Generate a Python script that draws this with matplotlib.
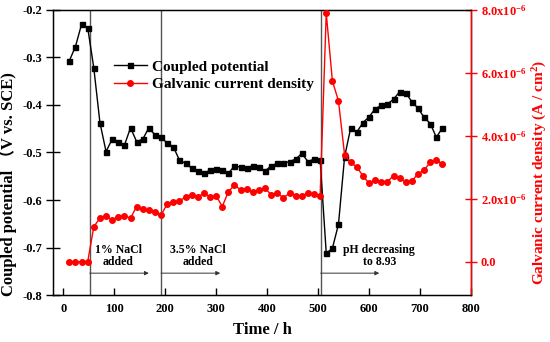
import matplotlib
matplotlib.use("Agg")
import matplotlib.pyplot as plt

plt.rcParams["font.family"] = ["Liberation Serif", "Noto Sans CJK SC"]
plt.rcParams["font.weight"] = "bold"
plt.rcParams["mathtext.fontset"] = "custom"
plt.rcParams["mathtext.rm"] = "Liberation Serif:bold"
plt.rcParams["mathtext.it"] = "Liberation Serif:italic:bold"
plt.rcParams["mathtext.bf"] = "Liberation Serif:bold"

# time (h)
time_h = [12, 24, 36, 48, 60, 72, 84, 96, 108, 120, 132, 144, 156, 168, 180,
          192, 204, 216, 228, 240, 252, 264, 276, 288, 300, 312, 324, 336,
          348, 360, 372, 384, 396, 408, 420, 432, 444, 456, 468, 480, 492,
          504, 516, 528, 540, 552, 564, 576, 588, 600, 612, 624, 636, 648,
          660, 672, 684, 696, 708, 720, 732, 744]

# coupled potential (V vs. SCE)
potential = [-0.307, -0.277, -0.230, -0.237, -0.322, -0.437, -0.498, -0.472,
             -0.477, -0.485, -0.448, -0.477, -0.472, -0.448, -0.463, -0.467,
             -0.481, -0.488, -0.516, -0.523, -0.533, -0.539, -0.544, -0.537,
             -0.535, -0.537, -0.544, -0.528, -0.531, -0.532, -0.528, -0.530,
             -0.539, -0.528, -0.523, -0.523, -0.519, -0.514, -0.502, -0.519,
             -0.514, -0.516, -0.712, -0.702, -0.651, -0.509, -0.448, -0.457,
             -0.437, -0.425, -0.408, -0.401, -0.398, -0.388, -0.372, -0.375,
             -0.393, -0.407, -0.426, -0.439, -0.468, -0.448]

# galvanic current density (1e-6 A/cm2)
current_e6 = [0.0, 0.0, 0.0, 0.0, 1.12, 1.39, 1.47, 1.33, 1.44, 1.46, 1.39,
              1.76, 1.67, 1.65, 1.58, 1.49, 1.84, 1.90, 1.95, 2.05, 2.14,
              2.06, 2.18, 2.07, 2.10, 1.76, 2.23, 2.44, 2.29, 2.32, 2.23,
              2.29, 2.34, 2.13, 2.18, 2.04, 2.18, 2.10, 2.10, 2.18, 2.16,
              2.10, 7.90, 5.75, 5.11, 3.40, 3.16, 3.01, 2.73, 2.50, 2.60,
              2.55, 2.55, 2.74, 2.66, 2.55, 2.58, 2.79, 2.92, 3.16, 3.24,
              3.10]
current = [v * 1e-6 for v in current_e6]

# events
event_times = [52, 192, 505]
arrow_ends = [168, 308, 620]
event_labels = ["1% NaCl\nadded", "3.5% NaCl\nadded", "pH decreasing\nto 8.93"]
label_x = [108, 265, 620]

x_ticks = [0, 100, 200, 300, 400, 500, 600, 700, 800]
left_ticks = [-0.8, -0.7, -0.6, -0.5, -0.4, -0.3, -0.2]
right_ticks = [0.0, 2e-6, 4e-6, 6e-6, 8e-6]
right_tick_labels = ["0.0", r"2.0x10$^{-6}$", r"4.0x10$^{-6}$",
                     r"6.0x10$^{-6}$", r"8.0x10$^{-6}$"]

RED = "#ff0000"

fig = plt.figure(figsize=(5.5, 3.42), dpi=100)
ax = fig.add_axes([0.0964, 0.1374, 0.76, 0.8334])
ax2 = ax.twinx()

for t in event_times:
    ax.axvline(t, color="#555555", lw=1.0, zorder=1)

l1, = ax.plot(time_h, potential, "-s", color="black", lw=1.0, ms=3.6,
              label="Coupled potential", zorder=3)
l2, = ax2.plot(time_h, current, "-o", color=RED, lw=1.0, ms=4.0,
               label="Galvanic current density", zorder=3)

for t0, t1, lab, lx in zip(event_times, arrow_ends, event_labels, label_x):
    ax.annotate("", xy=(t1, -0.754), xytext=(t0, -0.754),
                arrowprops=dict(arrowstyle="-|>", lw=0.7, color="#333333",
                                mutation_scale=6, shrinkA=0, shrinkB=0))
    ax.text(lx, -0.718, lab, ha="center", va="center", fontsize=8.5,
            fontweight="bold", linespacing=1.05)

ax.set_xlim(-20, 800)
ax.set_ylim(-0.8, -0.2)
ax2.set_ylim(-1.05e-6, 8e-6)

ax.set_xticks(x_ticks)
ax.set_yticks(left_ticks)
ax.set_yticklabels([f"{v:.1f}" for v in left_ticks])
ax2.set_yticks(right_ticks)
ax2.set_yticklabels(right_tick_labels)

ax.tick_params(axis="x", direction="in", length=5, width=1, labelsize=9, pad=6)
ax.tick_params(axis="y", direction="inout", length=10, width=1, labelsize=9, pad=3)
ax2.tick_params(axis="y", direction="inout", length=8, width=1, labelsize=9,
                colors=RED, pad=3)

for s in ax.spines.values():
    s.set_linewidth(1.0)
ax2.spines["right"].set_color(RED)
ax2.spines["right"].set_linewidth(1.0)

ax.set_xlabel("Time / h", fontsize=12, fontweight="bold")
ax.xaxis.set_label_coords(0.5, -0.095)
ax.set_ylabel("Coupled potential （V vs. SCE)", fontsize=12, fontweight="bold")
ax.yaxis.set_label_coords(-0.086, 0.39)
ax2.set_ylabel("Galvanic current density (A / cm$^2$)", fontsize=11,
               fontweight="bold", color=RED, rotation=90)
ax2.yaxis.set_label_coords(1.143, 0.43)

ax.legend(handles=[l1, l2], loc="upper left", bbox_to_anchor=(0.145, 0.825),
          frameon=False, prop={"size": 11, "weight": "bold"},
          handlelength=2.2, handletextpad=0.3, labelspacing=0.25,
          borderaxespad=0, borderpad=0)

fig.savefig("out.png", dpi=100)
